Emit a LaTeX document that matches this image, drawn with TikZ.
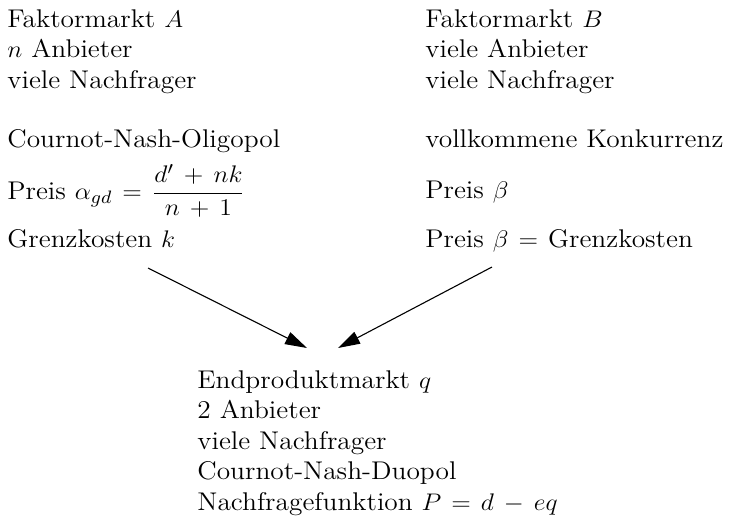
\documentclass[tikz,border=0pt]{standalone}
\usepackage{amsmath}
\usetikzlibrary{arrows.meta}
\newcommand{\widetxt}[1]{\scalebox{1.07}[1]{\medmuskip=7mu plus 2mu\thickmuskip=7mu plus 2mu #1}}
\begin{document}
\begin{tikzpicture}[x=0.5pt,y=-0.5pt,
  txt/.style={anchor=base west,inner sep=0pt,font=\fontsize{12.8}{15}\selectfont},
  arr/.style={line width=0.55pt,-{Triangle[length=11pt,width=6.5pt]}}]
\useasboundingbox (0,0) rectangle (730,521);
% left column
\node[txt] (a1) at (7,27) {\widetxt{Faktormarkt $A$}};
\node[txt] (a2) at (7,57) {\widetxt{$n$ Anbieter}};
\node[txt] (a3) at (7,88) {\widetxt{viele Nachfrager}};
\node[txt] (a4) at (7,147) {\widetxt{Cournot-Nash-Oligopol}};
\node[txt] (a5) at (7,199) {\widetxt{Preis $\alpha_{gd}=\dfrac{d'+nk}{n+1}$}};
\node[txt] (a6) at (7,247) {\widetxt{Grenzkosten $k$}};
% right column
\node[txt] (b1) at (425,27) {\widetxt{Faktormarkt $B$}};
\node[txt] (b2) at (425,57) {\widetxt{viele Anbieter}};
\node[txt] (b3) at (425,88) {\widetxt{viele Nachfrager}};
\node[txt] (b4) at (425,147) {\widetxt{vollkommene Konkurrenz}};
\node[txt] (b5) at (425,198) {\widetxt{Preis $\beta$}};
\node[txt] (b6) at (425,247) {\widetxt{Preis $\beta=\text{Grenzkosten}$}};
% bottom block
\node[txt] (c1) at (197,388) {\widetxt{Endproduktmarkt $q$}};
\node[txt] (c2) at (197,418) {\widetxt{2 Anbieter}};
\node[txt] (c3) at (197,449) {\widetxt{viele Nachfrager}};
\node[txt] (c4) at (197,479) {\widetxt{Cournot-Nash-Duopol}};
\node[txt] (c5) at (197,510) {\widetxt{Nachfragefunktion $P=d-eq$}};
% arrows
\coordinate (sA) at (148,268);
\coordinate (eA) at (307,348);
\coordinate (sB) at (492,267);
\coordinate (eB) at (338,348);
\draw[arr] (sA) -- (eA);
\draw[arr] (sB) -- (eB);
\end{tikzpicture}
\end{document}
